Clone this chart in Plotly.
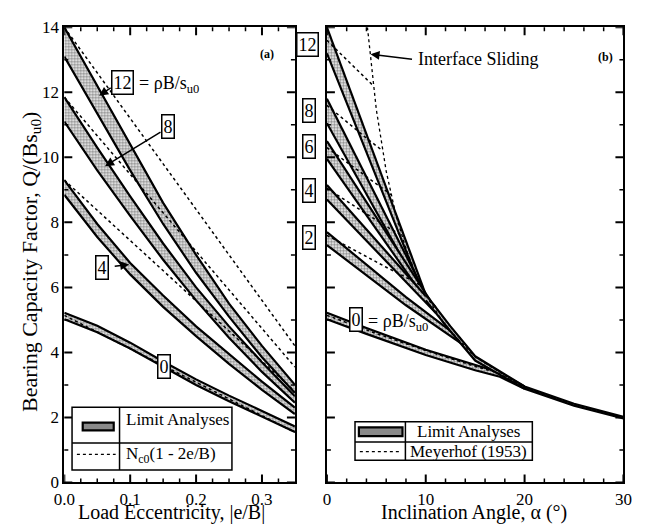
import plotly.graph_objects as go

# ---------------- DATA ----------------
# Panel (a): load eccentricity |e/B| vs Q/(B s_u0)
ecc = [0.0, 0.05, 0.10, 0.15, 0.20, 0.25, 0.30, 0.35]
a12_hi = [14.0, 12.2, 10.4, 8.6, 7.0, 5.5, 4.2, 3.0]
a12_lo = [13.1, 11.35, 9.6, 7.95, 6.45, 5.1, 3.85, 2.75]
a8_hi = [11.85, 10.3, 8.8, 7.35, 6.0, 4.8, 3.7, 2.65]
a8_lo = [11.1, 9.6, 8.2, 6.85, 5.6, 4.45, 3.4, 2.45]
a4_hi = [9.3, 7.95, 6.75, 5.75, 4.8, 3.95, 3.1, 2.3]
a4_lo = [8.85, 7.55, 6.4, 5.4, 4.5, 3.65, 2.85, 2.1]
a0_hi = [5.22, 4.82, 4.3, 3.72, 3.17, 2.67, 2.2, 1.72]
a0_lo = [5.02, 4.62, 4.12, 3.55, 3.0, 2.5, 2.03, 1.55]
# N_c0(1 - 2e/B) dotted lines (end points)
ecc_ends = [0.0, 0.35]
nc_12 = [14.0, 4.2]
nc_8 = [11.85, 3.55]
nc_4 = [9.3, 2.8]
nc_0 = [5.14, 1.54]

# Panel (b): inclination angle vs Q/(B s_u0)
b12_a = [0, 10];            b12_hi = [14.0, 5.78];  b12_lo = [13.2, 5.6]
b8_a = [0, 10];             b8_hi = [11.8, 5.78];   b8_lo = [11.05, 5.6]
b6_a = [0, 10.5];           b6_hi = [10.5, 5.58];   b6_lo = [9.95, 5.41]
b4_a = [0, 11];             b4_hi = [9.15, 5.39];   b4_lo = [8.7, 5.22]
b2_a = [0, 8, 13.5];        b2_hi = [7.7, 5.7, 4.43]; b2_lo = [7.3, 5.45, 4.29]
b0_a = [0, 4, 10, 15, 17.5, 20]
b0_hi = [5.22, 4.75, 4.08, 3.6, 3.38, 2.95]
b0_lo = [5.02, 4.57, 3.92, 3.45, 3.25, 2.88]
tail_a = [10, 12.5, 15, 20, 25, 30]
tail_hi = [5.78, 4.8, 3.88, 2.95, 2.42, 2.02]
tail_lo = [5.6, 4.65, 3.75, 2.88, 2.36, 1.97]
# Meyerhof (1953) dotted curves
m12_a = [0, 2, 4, 4.7];            m12_q = [13.6, 13.0, 12.42, 12.2]
m8_a = [0, 2, 4, 5.65];            m8_q = [11.6, 11.09, 10.59, 10.2]
m6_a = [0, 2, 4, 6.5];             m6_q = [10.3, 9.85, 9.4, 8.85]
m4_a = [0, 2, 4, 6, 7.55];         m4_q = [9.05, 8.65, 8.26, 7.88, 7.6]
m2_a = [0, 2, 4, 6, 8, 9.5];       m2_q = [7.6, 7.27, 6.94, 6.62, 6.31, 6.06]
m0_a = [0, 5, 10, 15, 17.3, 20, 25, 30]
m0_q = [5.14, 4.58, 4.06, 3.57, 3.37, 2.92, 2.37, 2.0]
# Interface sliding
slide_a = [4.1, 5, 6, 7, 8, 9, 10, 12, 15, 20, 25, 30]
slide_q = [14.0, 11.47, 9.57, 8.2, 7.19, 6.39, 5.76, 4.81, 3.86, 2.92, 2.37, 2.0]

# tick positions
ecc_major = [0, 0.1, 0.2, 0.3]
ecc_minor = [0.025, 0.05, 0.075, 0.125, 0.15, 0.175, 0.225, 0.25, 0.275, 0.325]
ang_major = [0, 10, 20, 30]
ang_minor = [2, 4, 6, 8, 12, 14, 16, 18, 22, 24, 26, 28]
q_major = [0, 2, 4, 6, 8, 10, 12, 14]
q_minor = [1, 3, 5, 7, 9, 11, 13]

# ---------------- FIGURE ----------------
W, H = 646, 531
def px(x): return x / W
def py(y): return 1 - y / H

FONT = "Liberation Serif"
fig = go.Figure()

pattern = dict(shape=".", fgcolor="#111", bgcolor="white", size=3, solidity=0.55)

def band(x, lo, hi, xa, ya):
    fig.add_trace(go.Scatter(x=x, y=lo, mode="lines", line=dict(color="black", width=2.2),
                             xaxis=xa, yaxis=ya, hoverinfo="skip"))
    fig.add_trace(go.Scatter(x=x, y=hi, mode="lines", line=dict(color="black", width=2.2),
                             fill="tonexty", fillpattern=pattern, fillcolor="rgba(0,0,0,0)",
                             xaxis=xa, yaxis=ya, hoverinfo="skip"))

def dotted(x, y, xa, ya, w=1.5):
    fig.add_trace(go.Scatter(x=x, y=y, mode="lines", line=dict(color="black", width=w, dash="dot"),
                             xaxis=xa, yaxis=ya, hoverinfo="skip"))

# panel a
for lo, hi in [(a12_lo, a12_hi), (a8_lo, a8_hi), (a4_lo, a4_hi), (a0_lo, a0_hi)]:
    band(ecc, lo, hi, "x", "y")
for q in [nc_12, nc_8, nc_4, nc_0]:
    dotted(ecc_ends, q, "x", "y")

# panel b
for a, lo, hi in [(b12_a, b12_lo, b12_hi), (b8_a, b8_lo, b8_hi), (b6_a, b6_lo, b6_hi),
                  (b4_a, b4_lo, b4_hi), (b2_a, b2_lo, b2_hi), (b0_a, b0_lo, b0_hi),
                  (tail_a, tail_lo, tail_hi)]:
    band(a, lo, hi, "x2", "y2")
for a, q in [(m12_a, m12_q), (m8_a, m8_q), (m6_a, m6_q), (m4_a, m4_q), (m2_a, m2_q), (m0_a, m0_q)]:
    dotted(a, q, "x2", "y2")
dotted(slide_a, slide_q, "x2", "y2", w=1.3)

axis_common = dict(showline=True, linecolor="black", linewidth=2, mirror=True,
                   ticks="", showgrid=False, zeroline=False,
                   tickfont=dict(family=FONT, size=17, color="black"))

fig.update_layout(
    width=W, height=H, margin=dict(l=0, r=0, t=0, b=0),
    paper_bgcolor="white", plot_bgcolor="white", showlegend=False,
    font=dict(family=FONT, color="black"),
    xaxis=dict(domain=[px(55), px(293)], range=[0, 0.35], tickvals=ecc_major,
               ticktext=["0.0", "0.1", "0.2", "0.3"], anchor="y", **axis_common),
    yaxis=dict(domain=[py(491), py(19)], range=[0, 14], tickvals=q_major,
               anchor="x", **axis_common),
    xaxis2=dict(domain=[px(326), px(632)], range=[0, 30], tickvals=ang_major, anchor="y2",
                **axis_common),
    yaxis2=dict(domain=[py(491), py(19)], range=[0, 14], tickvals=q_major,
                anchor="x2", showticklabels=False, **axis_common),
)

shapes = []
# inward tick marks on all four sides of both panels (pixel-sized, placed at axis values)
def xticks(xref, yref, vals, length, w):
    for v in vals:
        for yv, sgn in [(0, 1), (1, -1)]:
            shapes.append(dict(type="line", xref=xref, yref=yref + " domain",
                               x0=v, x1=v, ysizemode="pixel", yanchor=yv,
                               y0=0, y1=sgn * length, line=dict(color="black", width=w)))
def yticks(xref, yref, vals, length, w):
    for v in vals:
        for xv, sgn in [(0, 1), (1, -1)]:
            shapes.append(dict(type="line", xref=xref + " domain", yref=yref,
                               y0=v, y1=v, xsizemode="pixel", xanchor=xv,
                               x0=0, x1=sgn * length, line=dict(color="black", width=w)))

xticks("x", "y", ecc_major, 8, 2)
xticks("x", "y", ecc_minor, 4, 1.5)
yticks("x", "y", q_major, 8, 2)
yticks("x", "y", q_minor, 4, 1.5)
xticks("x2", "y2", ang_major, 8, 2)
xticks("x2", "y2", ang_minor, 4, 1.5)
yticks("x2", "y2", q_major, 8, 2)
yticks("x2", "y2", q_minor, 4, 1.5)

ann = []
def text(x, y, t, size=17, xanchor="center", **kw):
    d = dict(x=px(x), y=py(y), xref="paper", yref="paper", text=t, showarrow=False,
             xanchor=xanchor, yanchor="middle",
             font=dict(family=FONT, size=size, color="black"))
    d.update(kw)
    ann.append(d)

def box(x, y, t, size=18):
    text(x, y, t, size=size, bordercolor="black", borderwidth=1.5, borderpad=1, bgcolor="white")

def arrow(x0, y0, x1, y1):
    ann.append(dict(x=px(x1), y=py(y1), ax=x0 - x1, ay=y0 - y1, xref="paper", yref="paper",
                    axref="pixel", ayref="pixel", text="", showarrow=True, arrowhead=2,
                    arrowsize=1.2, arrowwidth=1.5, arrowcolor="black"))

# axis titles
text(20, 262, "Bearing Capacity Factor, Q/(Bs<sub>u0</sub>)", size=22, textangle=-90)
text(166, 522, "Load Eccentricity, |e/B|", size=20)
text(478, 522, "Inclination Angle, α (°)", size=20)
text(264, 47, "<b>(a)</b>", size=12)
text(613, 50, "<b>(b)</b>", size=12)

# panel a labels
arrow(104, 81, 91, 90)
box(115, 76, "12")
text(130, 78, "= ρB/s<sub>u0</sub>", size=18, xanchor="left")
arrow(154, 128, 97, 163)
box(162, 122, "8")
arrow(106, 267, 122, 265)
box(94, 268, "4")
box(158, 371, "0")

# panel b labels
box(306, 37, "12")
box(308, 105, "8")
box(308, 143, "6")
box(308, 188, "4")
box(308, 237, "2")
box(356, 322, "0")
text(366, 325, "= ρB/s<sub>u0</sub>", size=18, xanchor="left")
arrow(414, 52, 371, 47)
text(418, 52, "Interface Sliding", size=18, xanchor="left")

# legends (table style)
def rect(x0, y0, x1, y1, **kw):
    d = dict(type="rect", xref="paper", yref="paper", x0=px(x0), y0=py(y1), x1=px(x1), y1=py(y0),
             line=dict(color="black", width=1.5))
    d.update(kw)
    shapes.append(d)
def line(x0, y0, x1, y1, w=1.5, dash="solid"):
    shapes.append(dict(type="line", xref="paper", yref="paper", x0=px(x0), y0=py(y0),
                       x1=px(x1), y1=py(y1), line=dict(color="black", width=w, dash=dash)))

rect(63, 413, 228, 478, fillcolor="white", layer="above")
line(112, 413, 112, 478)
line(63, 450, 228, 450)
rect(74, 429, 106, 437, fillcolor="#8a8a8a", line=dict(color="black", width=2.2), layer="above")
line(68, 462, 108, 462, w=1.3, dash="dot")
text(117, 426, "Limit Analyses", size=17, xanchor="left")
text(117, 463, "N<sub>c0</sub>(1 - 2e/B)", size=17, xanchor="left")

rect(355, 428, 538, 468, fillcolor="white", layer="above")
line(407, 428, 407, 468)
line(355, 449, 538, 449)
rect(359, 434, 404, 443, fillcolor="#8a8a8a", line=dict(color="black", width=2.2), layer="above")
line(360, 459, 403, 459, w=1.3, dash="dot")
text(472, 438, "Limit Analyses", size=17)
text(472, 459, "Meyerhof (1953)", size=17)

fig.update_layout(annotations=ann, shapes=shapes)
fig.write_html("out.html")
